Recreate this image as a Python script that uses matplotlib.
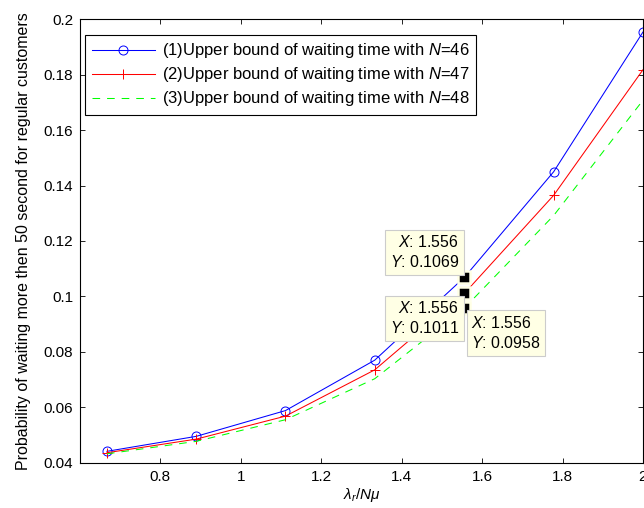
import matplotlib
matplotlib.use("Agg")
import matplotlib.pyplot as plt
from matplotlib.ticker import FormatStrFormatter

plt.rcParams['font.family'] = ['Liberation Sans', 'DejaVu Sans']
plt.rcParams['mathtext.fontset'] = 'custom'
plt.rcParams['mathtext.rm'] = 'Liberation Sans'
plt.rcParams['mathtext.it'] = 'Liberation Sans:italic'
plt.rcParams['lines.scale_dashes'] = False

# load ratio lambda_r / (N mu)
x = [0.667, 0.889, 1.111, 1.333, 1.556, 1.778, 2.0]
# waiting-time upper bounds
y46 = [0.0441, 0.0495, 0.0588, 0.0770, 0.1069, 0.1450, 0.1954]
y47 = [0.0436, 0.0485, 0.0568, 0.0735, 0.1011, 0.1365, 0.1818]
y48 = [0.0432, 0.0477, 0.0555, 0.0703, 0.0958, 0.1292, 0.1708]
labels = ['(1)Upper bound of waiting time with $\\it{N}$=46',
          '(2)Upper bound of waiting time with $\\it{N}$=47',
          '(3)Upper bound of waiting time with $\\it{N}$=48']
tip_idx = 4

fig = plt.figure(figsize=(6.44, 5.08), dpi=100)
ax = fig.add_axes([0.1242, 0.0892, 0.8742, 0.8728])

ax.plot(x, y46, color='blue', lw=0.75, marker='o', ms=6.5, mfc='none', mec='blue', mew=0.7, label=labels[0])
ax.plot(x, y47, color='red', lw=0.75, marker='+', ms=7, mec='red', mew=0.7, label=labels[1])
ax.plot(x, y48, color=(0, 1, 0), lw=0.75, dashes=(5.5, 5), label=labels[2])

ax.set_xlim(0.6, 2.0)
ax.set_ylim(0.04, 0.2)
ax.set_xticks([0.8, 1.0, 1.2, 1.4, 1.6, 1.8, 2.0])
ax.set_yticks([0.04, 0.06, 0.08, 0.1, 0.12, 0.14, 0.16, 0.18, 0.2])
ax.xaxis.set_major_formatter(FormatStrFormatter('%g'))
ax.yaxis.set_major_formatter(FormatStrFormatter('%g'))
ax.tick_params(direction='in', length=3.5, width=0.6, top=True, right=True, labelsize=11, pad=5)
for s in ax.spines.values():
    s.set_linewidth(0.8)

ax.set_xlabel('$\\lambda_r/N\\mu$', fontsize=11, labelpad=2)
ax.set_ylabel('Probability of waiting more then 50 second for regular customers', fontsize=11.5, labelpad=9)

leg = ax.legend(loc='upper left', bbox_to_anchor=(0.009, 0.965), fontsize=12, frameon=True,
                fancybox=False, framealpha=1, edgecolor='black', handlelength=3.8,
                handletextpad=0.4, labelspacing=0.3, borderpad=0.4, borderaxespad=0)
leg.get_frame().set_linewidth(0.8)

# data tips
tips = [(y46[tip_idx], (-4, 5), 'right', 'bottom'),
        (y47[tip_idx], (-4, -5), 'right', 'top'),
        (y48[tip_idx], (5, -5), 'left', 'top')]
for yv, off, ha, va in tips:
    ax.plot([x[tip_idx]], [yv], 's', color='black', ms=8.5, mec='#FFFFE5', mew=1.8, zorder=5)
    ax.annotate('$\\it{X}$: %.3f\n$\\it{Y}$: %.4g' % (x[tip_idx], yv), (x[tip_idx], yv),
                xytext=off, textcoords='offset points', ha=ha, va=va, fontsize=11.4,
                linespacing=1.3, zorder=6,
                bbox=dict(boxstyle='square,pad=0.3', fc='#FFFFE5', ec='#CCCCCC', lw=0.8))

fig.savefig('out.png', dpi=100)
